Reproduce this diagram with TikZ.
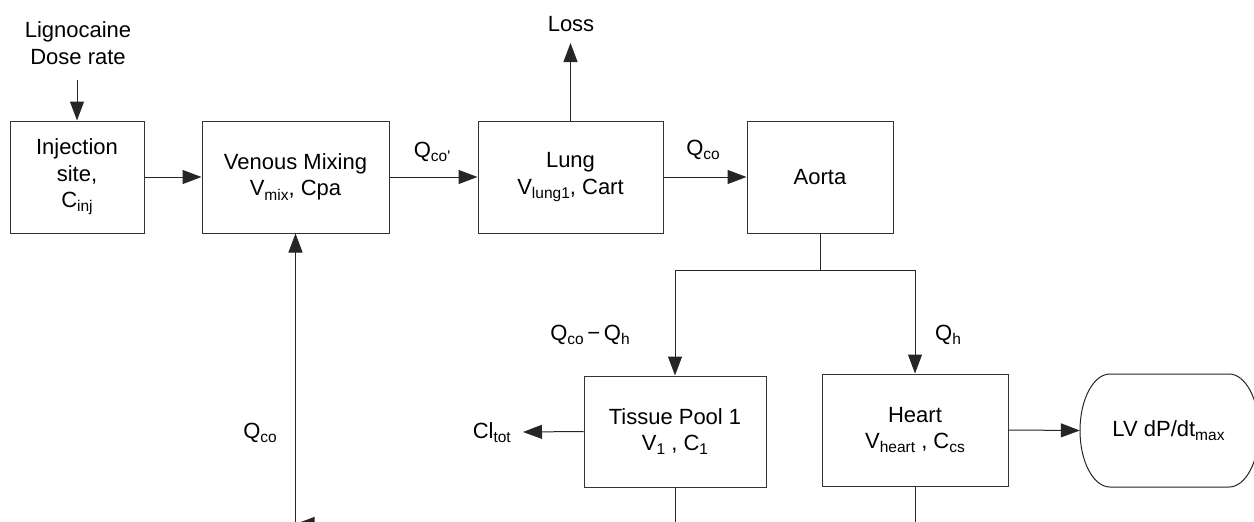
\documentclass[tikz,border=0pt]{standalone}
\usepackage{fontspec}
\setmainfont{Liberation Sans}
\usetikzlibrary{arrows.meta}
\newcommand{\lowsub}[1]{\raisebox{-0.35ex}{\fontsize{15.5}{15.5}\selectfont #1}}
\begin{document}
\begin{tikzpicture}[x=1pt,y=-1pt, font=\fontsize{22}{26.5}\selectfont,
  box/.style={draw=black!80, line width=1pt, rectangle, align=center, inner sep=0pt},
  arr/.style={-{Triangle[length=19pt,width=14pt]}, line width=1pt, draw=black!85},
  ln/.style={line width=1pt, draw=black!85},
  lbl/.style={inner sep=0pt, align=center}]
\useasboundingbox (0,0) rectangle (1254,522);
\clip (0,0) rectangle (1254,522);

% boxes
\node[box, minimum width=134pt, minimum height=112pt] (inj) at (77,177) {Injection\\site,\\C\lowsub{inj}};
\node[box, minimum width=187pt, minimum height=112pt] (venous) at (295.5,177) {Venous Mixing\\V\lowsub{mix}, Cpa};
\node[box, minimum width=185pt, minimum height=112pt] (lung) at (570.5,177) {Lung\\V\lowsub{lung1}, Cart};
\node[box, minimum width=146pt, minimum height=112pt] (aorta) at (820,177) {Aorta};
\node[box, minimum width=182pt, minimum height=111pt] (tissue) at (675,431.5) {Tissue Pool 1\\V\lowsub{1} , C\lowsub{1}};
\node[box, minimum width=186pt, minimum height=112pt] (heart) at (915,430) {Heart\\V\lowsub{heart} , C\lowsub{cs}};
\node[inner sep=0pt, minimum width=177pt, minimum height=113pt] (lv) at (1168.5,430.5) {LV dP/dt\lowsub{max}};
\draw[ln] (1110,374) -- (1229,374)
  arc[start angle=-90, end angle=90, x radius=30, y radius=56.5]
  -- (1110,487)
  arc[start angle=90, end angle=270, x radius=30, y radius=56.5] -- cycle;

% labels
\node[lbl] (ligno) at (78,43) {Lignocaine\\Dose rate};
\node[lbl] (loss) at (571,24) {Loss};
\node[lbl] (qcop) at (432,152) {Q\lowsub{co\textquotesingle}};
\node[lbl] (qco1) at (703,150) {Q\lowsub{co}};
\node[lbl] (qcoqh) at (590,335) {Q\lowsub{co}\,\textminus\,Q\lowsub{h}};
\node[lbl] (qh) at (948,335) {Q\lowsub{h}};
\node[lbl] (qco2) at (260,433) {Q\lowsub{co}};
\node[lbl, anchor=east] (cltot) at (511,433) {Cl\lowsub{tot}};

% coordinates
\coordinate (dosein) at (77,80);
\coordinate (lossin) at (570.5,43);
\coordinate (split) at (820,270);
\coordinate (clin) at (523,432);
\coordinate (tbot) at (675,540);
\coordinate (hbot) at (915,540);
\coordinate (vbot) at (295.5,540);
\coordinate (rin) at (420,524);
\coordinate (rout) at (295.5,524);

% connectors
\draw[arr] (dosein) -- (inj.north);
\draw[arr] (inj.east) -- (venous.west);
\draw[arr] (venous.east) -- (lung.west);
\draw[arr] (lung.east) -- (aorta.west);
\draw[arr] (lung.north) -- (lossin);
\draw[ln] (aorta.south) -- (split);
\draw[arr] (split) -| (tissue.north);
\draw[arr] (split) -| (heart.north);
\draw[arr] (heart.east) -- (lv.west);
\draw[arr] (tissue.west) -- (clin);
\draw[ln] (tissue.south) -- (tbot);
\draw[ln] (heart.south) -- (hbot);
\draw[arr] (vbot) -- (venous.south);
\draw[arr] (rin) -- (rout);
\end{tikzpicture}
\end{document}
